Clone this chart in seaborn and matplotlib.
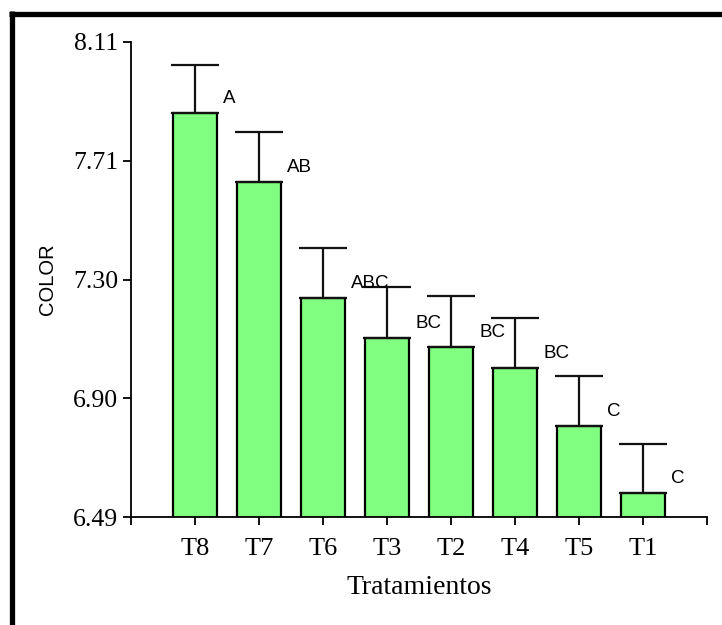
import matplotlib
matplotlib.use("Agg")
import matplotlib.pyplot as plt
import seaborn as sns
import pandas as pd
import numpy as np
from matplotlib.lines import Line2D

# Data
treatments = ["T8", "T7", "T6", "T3", "T2", "T4", "T5", "T1"]
color_mean = [7.869, 7.632, 7.236, 7.100, 7.069, 6.998, 6.799, 6.571]
color_err = [0.164, 0.172, 0.170, 0.173, 0.174, 0.172, 0.173, 0.167]
letters = ["A", "AB", "ABC", "BC", "BC", "BC", "C", "C"]
y_ticks = [6.49, 6.895, 7.30, 7.705, 8.11]
y_tick_labels = ["6.49", "6.90", "7.30", "7.71", "8.11"]

df = pd.DataFrame({"Tratamientos": treatments, "COLOR": color_mean})

sns.set_theme(style="ticks")
plt.rcParams["font.family"] = ["Liberation Serif", "DejaVu Serif"]

fig = plt.figure(figsize=(7.22, 6.25), dpi=100)
ax = fig.add_axes([131 / 722, 1 - 517 / 625, (707 - 131) / 722, (517 - 42) / 625])

sns.barplot(data=df, x="Tratamientos", y="COLOR", order=treatments,
            color="#80FF80", saturation=1, width=0.7,
            edgecolor="black", linewidth=1.6, errorbar=None, ax=ax)

pos = np.arange(len(treatments))
ax.errorbar(pos, color_mean, yerr=[np.zeros(len(pos)), color_err], fmt="none",
            ecolor="#111111", elinewidth=1.6, capsize=17, capthick=1.6, zorder=1)

for x, m, lab in zip(pos, color_mean, letters):
    ax.text(x + 0.44, m + 0.05, lab, ha="left", va="center", fontsize=13.5,
            family=["Liberation Sans", "DejaVu Sans"], color="black")

ax.set_ylim(6.49, 8.11)
ax.set_xlim(-1, 8)
ax.set_yticks(y_ticks)
ax.set_yticklabels(y_tick_labels)
ax.set_xticks(np.arange(-1, 9))
ax.set_xticklabels([""] + treatments + [""])

ax.tick_params(axis="y", direction="out", length=6, width=1.3, pad=3,
               labelsize=18.5, colors="black")
ax.tick_params(axis="x", direction="out", length=6, width=1.3, pad=9,
               labelsize=19, colors="black")

for s in ["top", "right"]:
    ax.spines[s].set_visible(False)
for s in ["left", "bottom"]:
    ax.spines[s].set_color("black")
    ax.spines[s].set_linewidth(1.3)

ax.set_xlabel("Tratamientos", fontsize=20, labelpad=11, color="black")
ax.set_ylabel("COLOR", fontsize=14.5, labelpad=12, color="black",
              family=["Liberation Sans", "DejaVu Sans"])

# Frame lines (top and left) of the figure
fig.add_artist(Line2D([11.5 / 722, 11.5 / 722], [0, 1 - 11 / 625],
                      transform=fig.transFigure, color="black", linewidth=3.8,
                      solid_capstyle="butt"))
fig.add_artist(Line2D([9 / 722, 1], [1 - 13.5 / 625, 1 - 13.5 / 625],
                      transform=fig.transFigure, color="black", linewidth=3.8,
                      solid_capstyle="butt"))

fig.savefig("out.png", dpi=100, facecolor="white")
